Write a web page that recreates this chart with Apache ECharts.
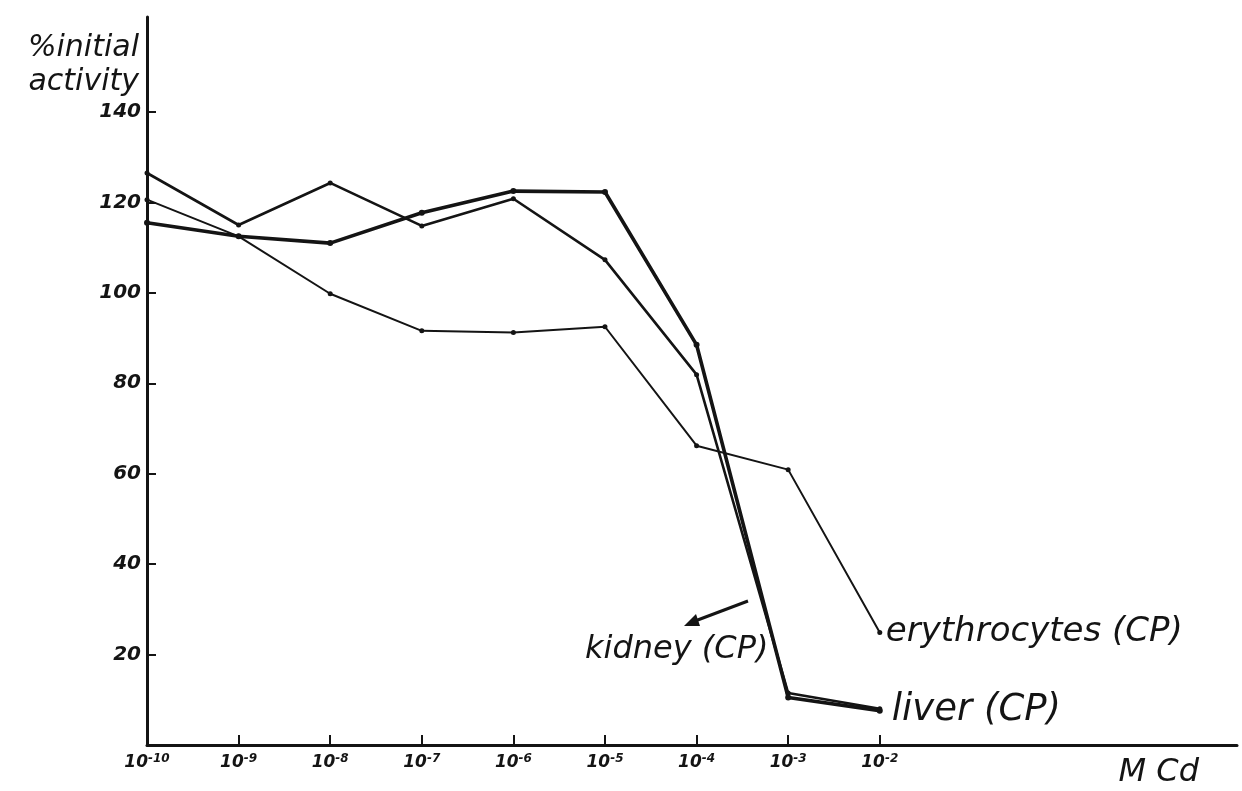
<!DOCTYPE html>
<html>
<head>
<meta charset="utf-8">
<script src="https://cdn.jsdelivr.net/npm/echarts@6/dist/echarts.min.js"></script>
<style>
  html, body { margin: 0; padding: 0; background: #fff; }
  #chart { width: 1242px; height: 791px; }
</style>
</head>
<body>
<div id="chart"></div>
<script>
// Cd concentration, as the exponent of 10 (M)
const exponents = [-10, -9, -8, -7, -6, -5, -4, -3, -2];
// % of initial activity
const liver = [115.5, 112.5, 111, 117.7, 122.5, 122.3, 88.5, 10.5, 7.6];
const kidney = [126.5, 115, 124.3, 114.8, 120.8, 107.3, 81.9, 11.5, 8];
const erythrocytes = [120.6, 112.5, 99.8, 91.6, 91.2, 92.5, 66.2, 60.9, 24.9];
const yTicks = [20, 40, 60, 80, 100, 120, 140];

const FONT = 'DejaVu Sans';
const INK = '#141414';

const pairs = arr => exponents.map((e, i) => [e, arr[i]]);

const chart = echarts.init(document.getElementById('chart'));
chart.setOption({
  backgroundColor: '#fff',
  animation: false,
  grid: { left: 147, right: 5, top: 17, bottom: 46 },
  xAxis: {
    type: 'value',
    min: -10,
    max: 1.9,
    interval: 1,
    name: 'M Cd',
    nameLocation: 'end',
    nameGap: 0,
    nameTextStyle: {
      fontFamily: FONT, fontStyle: 'italic', fontSize: 32, color: INK,
      align: 'right', verticalAlign: 'top', padding: [12, 38, 0, 0]
    },
    splitLine: { show: false },
    axisLine: { onZero: false, lineStyle: { color: INK, width: 3 } },
    axisTick: {
      inside: true, length: 10, lineStyle: { color: INK, width: 2 },
      customValues: exponents.slice(1)
    },
    axisLabel: {
      customValues: exponents,
      margin: 8,
      formatter: v => '{b|10}{s|' + v + '}',
      rich: {
        b: { fontFamily: FONT, fontStyle: 'italic', fontWeight: 'bold', fontSize: 17, color: INK },
        s: { fontFamily: FONT, fontStyle: 'italic', fontWeight: 'bold', fontSize: 12, color: INK,
             verticalAlign: 'top', padding: [0, 0, 8, 0] }
      }
    }
  },
  yAxis: {
    type: 'value',
    min: 0,
    max: 161,
    interval: 20,
    name: '%initial\nactivity',
    nameLocation: 'end',
    nameGap: -48,
    nameTextStyle: {
      fontFamily: FONT, fontStyle: 'italic', fontSize: 30, color: INK,
      align: 'right', verticalAlign: 'middle', lineHeight: 34, padding: [0, 8, 0, 0]
    },
    splitLine: { show: false },
    axisLine: { onZero: false, lineStyle: { color: INK, width: 3 } },
    axisTick: {
      inside: true, length: 9, lineStyle: { color: INK, width: 2 },
      customValues: yTicks
    },
    axisLabel: {
      customValues: yTicks,
      margin: 6,
      padding: [10, 0, 0, 0],
      fontFamily: FONT, fontStyle: 'italic', fontWeight: 'bold', fontSize: 20, color: INK
    }
  },
  series: [
    {
      name: 'erythrocytes (CP)',
      type: 'line',
      data: pairs(erythrocytes),
      symbol: 'circle', symbolSize: 5,
      itemStyle: { color: INK },
      lineStyle: { color: INK, width: 2 },
      endLabel: {
        show: true, formatter: 'erythrocytes (CP)', distance: 6,
        fontFamily: FONT, fontStyle: 'italic', fontSize: 34, color: INK
      }
    },
    {
      name: 'kidney (CP)',
      type: 'line',
      data: pairs(kidney),
      symbol: 'circle', symbolSize: 5,
      itemStyle: { color: INK },
      lineStyle: { color: INK, width: 2.6 }
    },
    {
      name: 'liver (CP)',
      type: 'line',
      data: pairs(liver),
      symbol: 'circle', symbolSize: 6,
      itemStyle: { color: INK },
      lineStyle: { color: INK, width: 3.6 },
      endLabel: {
        show: true, formatter: 'liver (CP)', distance: 12,
        fontFamily: FONT, fontStyle: 'italic', fontSize: 37, color: INK
      }
    }
  ],
  graphic: [
    {
      type: 'text',
      left: 585, top: 634,
      style: { text: 'kidney (CP)', fontFamily: FONT, fontStyle: 'italic', fontSize: 32, fill: INK }
    },
    {
      type: 'line',
      shape: { x1: 748, y1: 601, x2: 695, y2: 621 },
      style: { stroke: INK, lineWidth: 3 }
    },
    {
      type: 'polygon',
      shape: { points: [[684, 626], [696, 614], [700, 626]] },
      style: { fill: INK }
    }
  ]
});
</script>
</body>
</html>
